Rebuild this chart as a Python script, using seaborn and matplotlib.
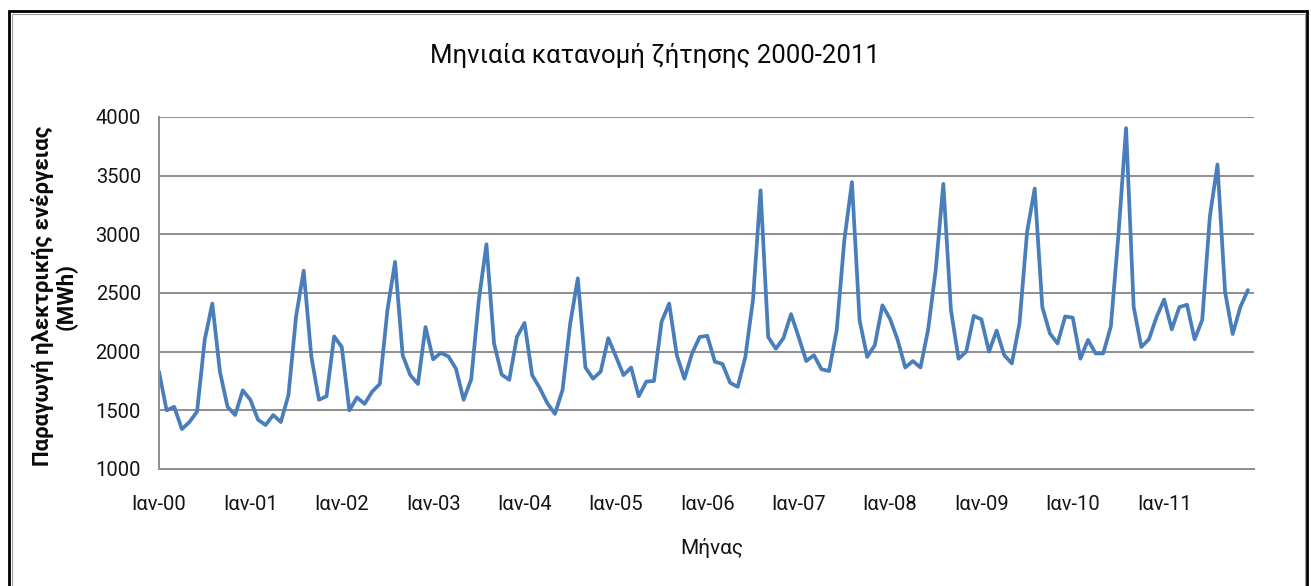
import numpy as np
import pandas as pd
import matplotlib
matplotlib.use("Agg")
import matplotlib.pyplot as plt
import seaborn as sns
from matplotlib.patches import Rectangle

# Monthly electricity production (MWh), January to December of each year
demand_2000 = [1830, 1500, 1530, 1340, 1400, 1490, 2100, 2410, 1830, 1530, 1460, 1670]
demand_2001 = [1590, 1420, 1375, 1460, 1400, 1630, 2300, 2690, 1960, 1590, 1620, 2130]
demand_2002 = [2040, 1500, 1610, 1555, 1660, 1725, 2355, 2765, 1970, 1800, 1725, 2210]
demand_2003 = [1935, 1990, 1960, 1855, 1590, 1765, 2440, 2915, 2070, 1805, 1760, 2125]
demand_2004 = [2245, 1800, 1690, 1560, 1470, 1675, 2240, 2625, 1865, 1770, 1830, 2115]
demand_2005 = [1960, 1800, 1865, 1620, 1745, 1750, 2255, 2410, 1970, 1770, 1985, 2125]
demand_2006 = [2135, 1915, 1895, 1735, 1700, 1955, 2440, 3375, 2125, 2025, 2115, 2320]
demand_2007 = [2125, 1920, 1970, 1850, 1835, 2185, 2950, 3445, 2270, 1955, 2055, 2395]
demand_2008 = [2280, 2100, 1865, 1920, 1865, 2185, 2695, 3430, 2355, 1940, 2000, 2305]
demand_2009 = [2275, 2000, 2180, 1970, 1900, 2240, 3020, 3390, 2380, 2155, 2070, 2300]
demand_2010 = [2290, 1940, 2100, 1985, 1985, 2215, 3000, 3905, 2380, 2040, 2105, 2295]
demand_2011 = [2445, 2190, 2380, 2400, 2105, 2270, 3150, 3595, 2510, 2150, 2380, 2525]

tick_labels = ["Ιαν-00", "Ιαν-01", "Ιαν-02", "Ιαν-03", "Ιαν-04", "Ιαν-05",
               "Ιαν-06", "Ιαν-07", "Ιαν-08", "Ιαν-09", "Ιαν-10", "Ιαν-11"]
y_ticks = [1000, 1500, 2000, 2500, 3000, 3500, 4000]

title = "Μηνιαία κατανομή ζήτησης 2000-2011"
y_label = "Παραγωγή ηλεκτρικής ενέργειας\n(MWh)"
x_label = "Μήνας"

series = (demand_2000 + demand_2001 + demand_2002 + demand_2003 + demand_2004 +
          demand_2005 + demand_2006 + demand_2007 + demand_2008 + demand_2009 +
          demand_2010 + demand_2011)
df = pd.DataFrame({"month": np.arange(len(series)), "value": series})

sns.set_style("white")
plt.rcParams["font.family"] = ["Roboto", "DejaVu Sans"]

W, H = 1311, 586
fig = plt.figure(figsize=(W / 100, H / 100), dpi=100)
fig.patch.set_facecolor("white")

left, right, top, bottom = 159, 1254, 117, 469
ax = fig.add_axes([left / W, 1 - bottom / H, (right - left) / W, (bottom - top) / H])

grid_col = "#8E8E8E"
text_col = "#141414"
sns.lineplot(data=df, x="month", y="value", ax=ax, color="#4A7EBB", lw=2.7)

ax.set_xlim(0, 143.8)
ax.set_ylim(1000, 4000)
ax.set_yticks(y_ticks)
ax.set_yticklabels([str(v) for v in y_ticks])
ax.set_xticks(np.arange(0, len(series), 12))
ax.set_xticklabels(tick_labels)
ax.set_xlabel("")
ax.set_ylabel("")

ax.grid(axis="y", color=grid_col, lw=1.4)
ax.grid(axis="x", visible=False)
ax.set_axisbelow(True)
for side in ("top", "right"):
    ax.spines[side].set_visible(False)
for side in ("left", "bottom"):
    ax.spines[side].set_color(grid_col)
    ax.spines[side].set_linewidth(1.4)

ax.tick_params(axis="x", direction="in", length=6, width=1, color=grid_col,
               pad=19, labelsize=14.5, labelcolor=text_col)
ax.tick_params(axis="y", length=0, pad=13, labelsize=14.5, labelcolor=text_col)

fig.text(655 / W, 1 - 55 / H, title, ha="center", va="center", fontsize=18.5,
         color="#0A0A0A")
fig.text(54 / W, 1 - 296 / H, y_label, ha="center", va="center", rotation=90,
         fontsize=16, fontweight="bold", multialignment="center",
         linespacing=1.05, color="#0A0A0A")
fig.text(712 / W, 1 - 548 / H, x_label, ha="center", va="center", fontsize=15,
         color=text_col)

# Outer chart frame: heavy black edge with a thin grey inner line
fig.add_artist(Rectangle((9 / W, -0.05), (1307 - 9) / W, 1.05 - 11.5 / H,
                         transform=fig.transFigure, fill=False, ec="black",
                         lw=2.0, zorder=10))
fig.add_artist(Rectangle((11.5 / W, -0.05), (1304.5 - 11.5) / W, 1.05 - 14 / H,
                         transform=fig.transFigure, fill=False, ec="#A0A0A0",
                         lw=0.8, zorder=10))

fig.savefig("out.png", dpi=100)
